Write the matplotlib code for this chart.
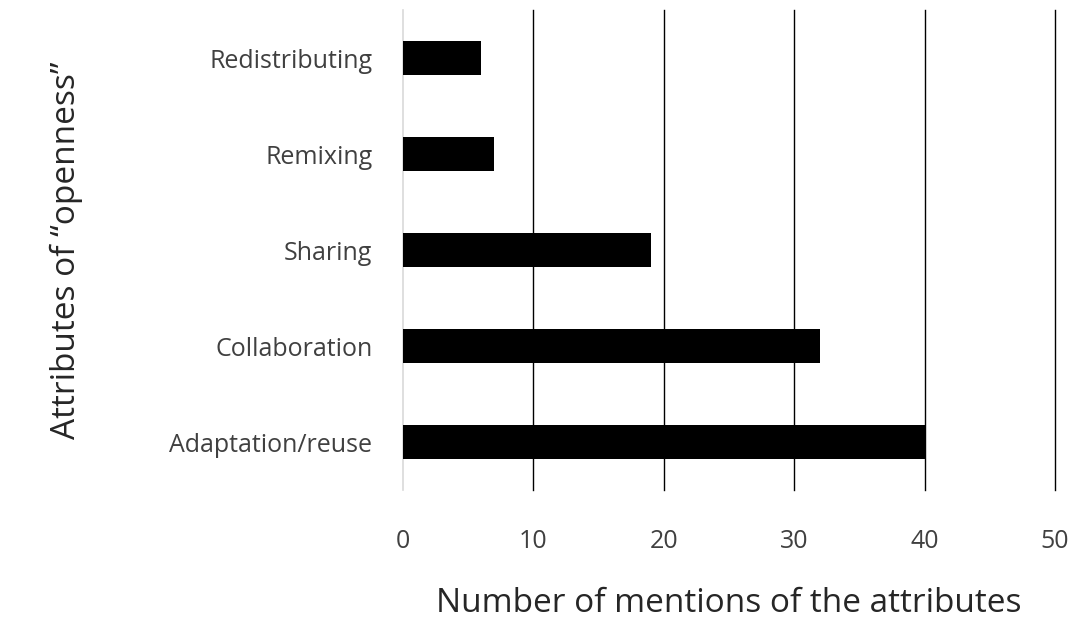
import matplotlib
matplotlib.use("Agg")
import matplotlib.pyplot as plt

categories = ["Adaptation/reuse", "Collaboration", "Sharing", "Remixing", "Redistributing"]
values = [40, 32, 19, 7, 6]
xticks = [0, 10, 20, 30, 40, 50]

plt.rcParams['font.family'] = ['Open Sans', 'DejaVu Sans']
fig = plt.figure(figsize=(10.88, 6.44), dpi=100)
ax = fig.add_axes([403/1088, 1-490/644, 652/1088, 480/644])
ax.barh(range(len(categories)), values, height=0.36, color='black', zorder=3)
ax.set_xlim(0, 50)
ax.set_ylim(-0.5, len(categories)-0.5)
ax.set_xticks(xticks)
ax.set_xticklabels([str(t) for t in xticks])
ax.set_yticks(range(len(categories)))
ax.set_yticklabels(categories)
for x in xticks:
    ax.axvline(x, color='#d9d9d9' if x == 0 else 'black', lw=1.2 if x == 0 else 1.0,
               zorder=1, clip_on=False)
for s in ax.spines.values():
    s.set_visible(False)
ax.tick_params(axis='both', length=0, labelsize=18, labelcolor='#404040')
ax.tick_params(axis='x', pad=28)
ax.tick_params(axis='y', pad=22)
ax.set_xlabel("Number of mentions of the attributes", fontsize=24, color='#262626', labelpad=24)
ax.set_ylabel("Attributes of \u201copenness\u201d", fontsize=24, color='#262626', labelpad=62)
fig.savefig("out.png", dpi=100)
